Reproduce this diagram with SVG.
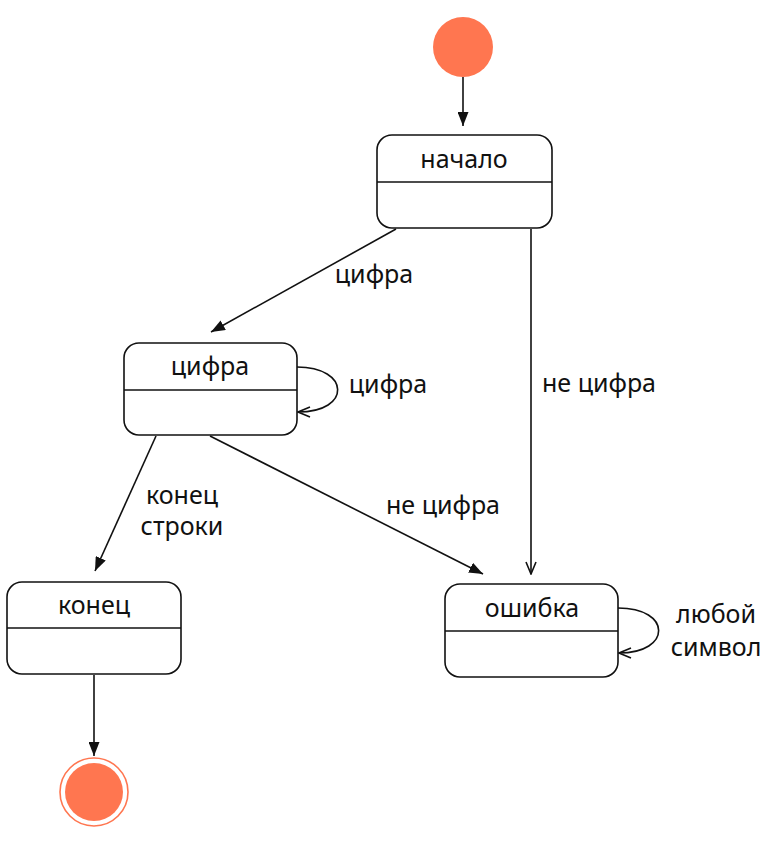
<svg xmlns="http://www.w3.org/2000/svg" width="774" height="848" viewBox="0 0 774 848">
<defs>
<style>
.box{fill:#fff;stroke:#111;stroke-width:1.6}
.div{stroke:#111;stroke-width:1.6}
.edge{fill:none;stroke:#111;stroke-width:1.6}
text{font-family:"Noto Sans","DejaVu Sans",sans-serif;font-size:25px;fill:#111}
.c{text-anchor:middle}
</style>
<marker id="af" markerWidth="14" markerHeight="11" refX="14" refY="5.5" orient="auto" markerUnits="userSpaceOnUse">
<path d="M0,0 L14,5.5 L0,11 Z" fill="#111"/>
</marker>
<marker id="ao" markerWidth="14" markerHeight="12" refX="13" refY="6" orient="auto" markerUnits="userSpaceOnUse">
<path d="M1,1 L13,6 L1,11" fill="none" stroke="#111" stroke-width="1.6"/>
</marker>
</defs>
<rect width="774" height="848" fill="#fff"/>
<g id="connectors">
<line class="edge" x1="463" y1="77" x2="463" y2="126" marker-end="url(#af)"/>
<line class="edge" x1="396" y1="229" x2="211" y2="332" marker-end="url(#af)"/>
<line class="edge" x1="531" y1="229" x2="531" y2="574" marker-end="url(#ao)"/>
<path class="edge" d="M297,367 C350,367 352,412 298,412" marker-end="url(#ao)"/>
<line class="edge" x1="156" y1="436" x2="95" y2="571" marker-end="url(#af)"/>
<line class="edge" x1="210" y1="436" x2="483" y2="574" marker-end="url(#af)"/>
<line class="edge" x1="94" y1="675" x2="94" y2="756" marker-end="url(#af)"/>
<path class="edge" d="M618,608 C672,608 672,653 619,653" marker-end="url(#ao)"/>
<text class="c" x="374" y="283">цифра</text>
<text class="c" x="388" y="393">цифра</text>
<text class="c" x="599" y="392">не цифра</text>
<text class="c" x="182" y="504">конец</text>
<text class="c" x="182" y="535">строки</text>
<text class="c" x="443" y="514">не цифра</text>
<text class="c" x="716" y="623">любой</text>
<text class="c" x="716" y="656">символ</text>
</g>
<g id="initial">
<circle cx="463" cy="47" r="30" fill="#ff7650"/>
</g>
<g id="nachalo">
<rect class="box" x="377" y="135" width="175" height="93" rx="15"/>
<line class="div" x1="377" y1="182" x2="552" y2="182"/>
<text class="c" x="464" y="168">начало</text>
</g>
<g id="cifra">
<rect class="box" x="124" y="343" width="173" height="92" rx="15"/>
<line class="div" x1="124" y1="390" x2="297" y2="390"/>
<text class="c" x="210" y="375">цифра</text>
</g>
<g id="konec">
<rect class="box" x="7" y="582" width="174" height="92" rx="15"/>
<line class="div" x1="7" y1="628" x2="181" y2="628"/>
<text class="c" x="94" y="614">конец</text>
</g>
<g id="oshibka">
<rect class="box" x="445" y="584" width="173" height="93" rx="15"/>
<line class="div" x1="445" y1="631" x2="618" y2="631"/>
<text class="c" x="532" y="617">ошибка</text>
</g>
<g id="final">
<circle cx="94" cy="792" r="34" fill="#fff" stroke="#ff7650" stroke-width="1.6"/>
<circle cx="94" cy="792" r="29" fill="#ff7650"/>
</g>
</svg>
